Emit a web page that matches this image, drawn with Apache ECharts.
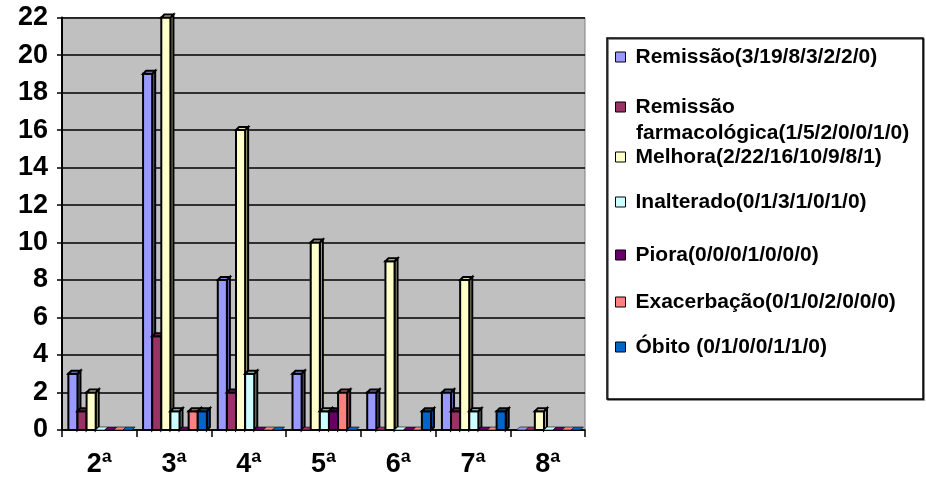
<!DOCTYPE html>
<html>
<head>
<meta charset="utf-8">
<script src="https://cdn.jsdelivr.net/npm/echarts@6/dist/echarts.min.js"></script>
<style>
  html, body { margin: 0; padding: 0; background: #ffffff; }
  #chart { width: 926px; height: 478px; }
</style>
</head>
<body>
<div id="chart"></div>
<script>
// Consultation rounds (x categories)
const categories = ['2ª', '3ª', '4ª', '5ª', '6ª', '7ª', '8ª'];

// Outcome counts per round
const remissao      = [3, 19, 8, 3, 2, 2, 0];
const remissaoFarm  = [1, 5, 2, 0, 0, 1, 0];
const melhora       = [2, 22, 16, 10, 9, 8, 1];
const inalterado    = [0, 1, 3, 1, 0, 1, 0];
const piora         = [0, 0, 0, 1, 0, 0, 0];
const exacerbacao   = [0, 1, 0, 2, 0, 0, 0];
const obito         = [0, 1, 0, 0, 1, 1, 0];

// Series names as shown in the legend
const seriesNames = [
  'Remissão(3/19/8/3/2/2/0)',
  'Remissão farmacológica(1/5/2/0/0/1/0)',
  'Melhora(2/22/16/10/9/8/1)',
  'Inalterado(0/1/3/1/0/1/0)',
  'Piora(0/0/0/1/0/0/0)',
  'Exacerbação(0/1/0/2/0/0/0)',
  'Óbito (0/1/0/0/1/1/0)'
];
const seriesValues = [remissao, remissaoFarm, melhora, inalterado, piora, exacerbacao, obito];
const seriesColors = ['#9999FF', '#993366', '#FFFFCC', '#CCFFFF', '#660066', '#FF8080', '#0066CC'];

// Y axis scale
const yMin = 0, yMax = 22, yStep = 2;

const FONT = '"Liberation Sans", Arial, sans-serif';

// Vertical centres of legend rows
const legendRows = [57, 107, 157, 202, 255, 302, 347];

const chart = echarts.init(document.getElementById('chart'), null, { renderer: 'canvas' });

// Darken a hex colour for the shaded faces of the pseudo-3D columns
function shade(hex, f) {
  const n = parseInt(hex.slice(1), 16);
  const r = Math.round(((n >> 16) & 255) * f);
  const g = Math.round(((n >> 8) & 255) * f);
  const b = Math.round((n & 255) * f);
  return 'rgb(' + r + ',' + g + ',' + b + ')';
}

const DEPTH = 3;        // depth of the side/top faces in px
const START = 0.085;    // left inset of the cluster within a category band
const WIDTH = 0.122;    // width of one column as a fraction of the band

function makeRenderItem(si) {
  const color = seriesColors[si];
  const side = shade(color, 0.7);
  const top = shade(color, 0.88);
  return function (params, api) {
    const cat = api.value(0);
    const val = api.value(1);
    const band = api.size([1, 0])[0];
    const center = api.coord([cat, 0]);
    const x0 = center[0] - band / 2 + band * START + si * band * WIDTH;
    const w = band * WIDTH;
    const yBase = center[1];
    const yTop = api.coord([cat, val])[1];
    const d = DEPTH;
    const stroke = { stroke: '#000000', lineWidth: val > 0 ? 2 : 0.6 };
    const children = [];
    if (val > 0) {
      children.push({
        type: 'polygon',
        shape: { points: [[x0 + w, yTop], [x0 + w + d, yTop - d], [x0 + w + d, yBase - d], [x0 + w, yBase]] },
        style: Object.assign({ fill: side }, stroke)
      });
      children.push({
        type: 'rect',
        shape: { x: x0, y: yTop, width: w, height: yBase - yTop },
        style: Object.assign({ fill: color }, stroke)
      });
    }
    children.push({
      type: 'polygon',
      shape: { points: [[x0, yTop], [x0 + d, yTop - d], [x0 + w + d, yTop - d], [x0 + w, yTop]] },
      style: Object.assign({ fill: val > 0 ? top : color }, stroke)
    });
    return { type: 'group', children: children };
  };
}

const series = seriesNames.map((name, i) => ({
  name: name,
  type: 'custom',
  renderItem: makeRenderItem(i),
  data: seriesValues[i].map((v, c) => [c, v]),
  encode: { x: 0, y: 1 },
  itemStyle: { color: seriesColors[i] },
  clip: false,
  z: 3
}));

const legends = seriesNames.map((name, i) => ({
  data: [{ name: name, itemStyle: { color: seriesColors[i], borderColor: '#000000', borderWidth: 1 } }],
  left: 615,
  top: legendRows[i] - 12,
  padding: 0,
  orient: 'vertical',
  itemWidth: 10,
  itemHeight: 10,
  itemGap: 6,
  icon: 'rect',
  selectedMode: false,
  formatter: (n) => (i === 1 ? 'Remissão' : n),
  textStyle: {
    fontFamily: FONT,
    fontWeight: 'bold',
    fontSize: 21,
    lineHeight: 24,
    color: '#000000',
    padding: [0, 0, 0, 5]
  }
}));

chart.setOption({
  animation: false,
  backgroundColor: '#ffffff',
  grid: {
    left: 62,
    right: 341,
    top: 17.6,
    bottom: 48,
    show: true,
    backgroundColor: '#C0C0C0',
    borderColor: '#808080',
    borderWidth: 1
  },
  legend: legends,
  graphic: [
    {
      type: 'rect',
      z: 0,
      shape: { x: 607, y: 38, width: 316, height: 361 },
      style: { fill: '#ffffff', stroke: '#000000', lineWidth: 1.5,
               shadowColor: 'rgba(0,0,0,0.6)', shadowOffsetX: 1, shadowOffsetY: 1 }
    },
    {
      type: 'text',
      z: 10,
      left: 636,
      top: 123,
      style: {
        text: 'farmacológica(1/5/2/0/0/1/0)',
        font: 'bold 21px ' + FONT,
        fill: '#000000'
      }
    }
  ],
  xAxis: {
    type: 'category',
    data: categories,
    boundaryGap: true,
    axisLine: { show: true, lineStyle: { color: '#000000', width: 1.5 } },
    axisTick: { show: true, alignWithLabel: false, length: 7, lineStyle: { color: '#000000', width: 1.5 } },
    axisLabel: {
      margin: 21,
      fontFamily: FONT,
      fontWeight: 'bold',
      fontSize: 27,
      color: '#000000'
    },
    splitLine: { show: false }
  },
  yAxis: {
    type: 'value',
    min: yMin,
    max: yMax,
    interval: yStep,
    axisLine: { show: true, lineStyle: { color: '#000000', width: 2 } },
    axisTick: { show: true, inside: false, length: 5, lineStyle: { color: '#000000', width: 1.5 } },
    axisLabel: {
      margin: 14,
      fontFamily: FONT,
      fontWeight: 'bold',
      fontSize: 27,
      color: '#000000'
    },
    splitLine: { show: true, lineStyle: { color: '#000000', width: 1.5 } }
  },
  series: series
});
</script>
</body>
</html>
